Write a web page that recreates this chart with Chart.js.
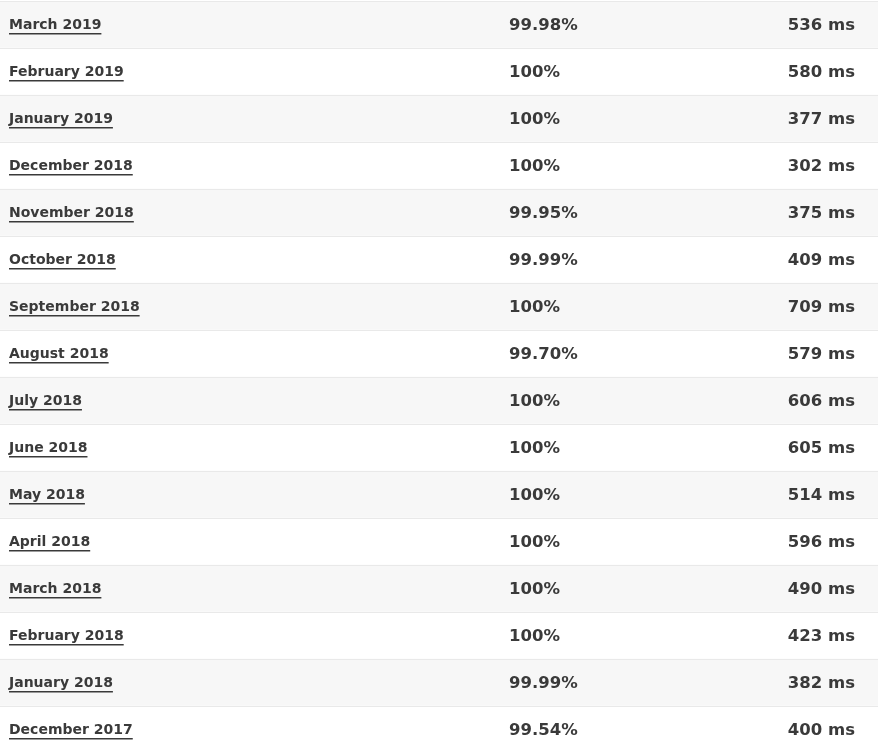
<!DOCTYPE html>
<html>
<head>
<meta charset="utf-8">
<script src="https://cdn.jsdelivr.net/npm/chart.js@4"></script>
<style>
  html, body { margin: 0; padding: 0; background: #fff; }
  #wrap { width: 878px; height: 754px; }
</style>
</head>
<body>
<div id="wrap"><canvas id="uptime"></canvas></div>
<script>
const months = ['March 2019', 'February 2019', 'January 2019', 'December 2018', 'November 2018',
  'October 2018', 'September 2018', 'August 2018', 'July 2018', 'June 2018', 'May 2018',
  'April 2018', 'March 2018', 'February 2018', 'January 2018', 'December 2017'];
const uptime = ['99.98%', '100%', '100%', '100%', '99.95%', '99.99%', '100%', '99.70%',
  '100%', '100%', '100%', '100%', '100%', '100%', '99.99%', '99.54%'];
const responseMs = [536, 580, 377, 302, 375, 409, 709, 579, 606, 605, 514, 596, 490, 423, 382, 400];

const MONTH_FONT = 'bold 14px "DejaVu Sans", Verdana, sans-serif';
const VALUE_FONT = 'bold 16.5px "DejaVu Sans", Verdana, sans-serif';
const TEXT = '#3a3a3a';

// text cells + row borders, placed with the y scale
const tableText = {
  id: 'tableText',
  afterDatasetsDraw(chart) {
    const ctx = chart.ctx;
    const y = chart.scales.y;
    ctx.save();
    ctx.fillStyle = TEXT;
    ctx.textBaseline = 'middle';
    months.forEach((m, i) => {
      const cy = y.getPixelForValue(i);
      const half = (y.getPixelForValue(1) - y.getPixelForValue(0)) / 2;
      ctx.strokeStyle = '#e9e9e9';
      ctx.lineWidth = 1;
      ctx.beginPath();
      ctx.moveTo(0, Math.round(cy - half) + 0.5);
      ctx.lineTo(chart.width, Math.round(cy - half) + 0.5);
      ctx.stroke();

      ctx.textAlign = 'left';
      ctx.font = MONTH_FONT;
      ctx.fillText(m, 9, cy + 1);
      const w = ctx.measureText(m).width;
      ctx.fillRect(9, Math.round(cy + 8), w, 1.5);
      ctx.font = VALUE_FONT;
      ctx.fillText(uptime[i], 509, cy + 1);
      ctx.textAlign = 'right';
      ctx.fillText(responseMs[i] + ' ms', 855, cy + 1);
    });
    ctx.restore();
  }
};

new Chart(document.getElementById('uptime'), {
  type: 'bar',
  data: {
    labels: months,
    datasets: [{
      data: months.map(() => 1),
      backgroundColor: months.map((m, i) => i % 2 === 0 ? '#f7f7f7' : '#ffffff'),
      barPercentage: 1,
      categoryPercentage: 1
    }]
  },
  options: {
    indexAxis: 'y',
    responsive: true,
    maintainAspectRatio: false,
    animation: false,
    layout: { padding: { top: 1, bottom: 1, left: 0, right: 0 } },
    scales: {
      x: { display: false, min: 0, max: 1 },
      y: { display: false, offset: true }
    },
    plugins: { legend: { display: false }, tooltip: { enabled: false } }
  },
  plugins: [tableText]
});
</script>
</body>
</html>
